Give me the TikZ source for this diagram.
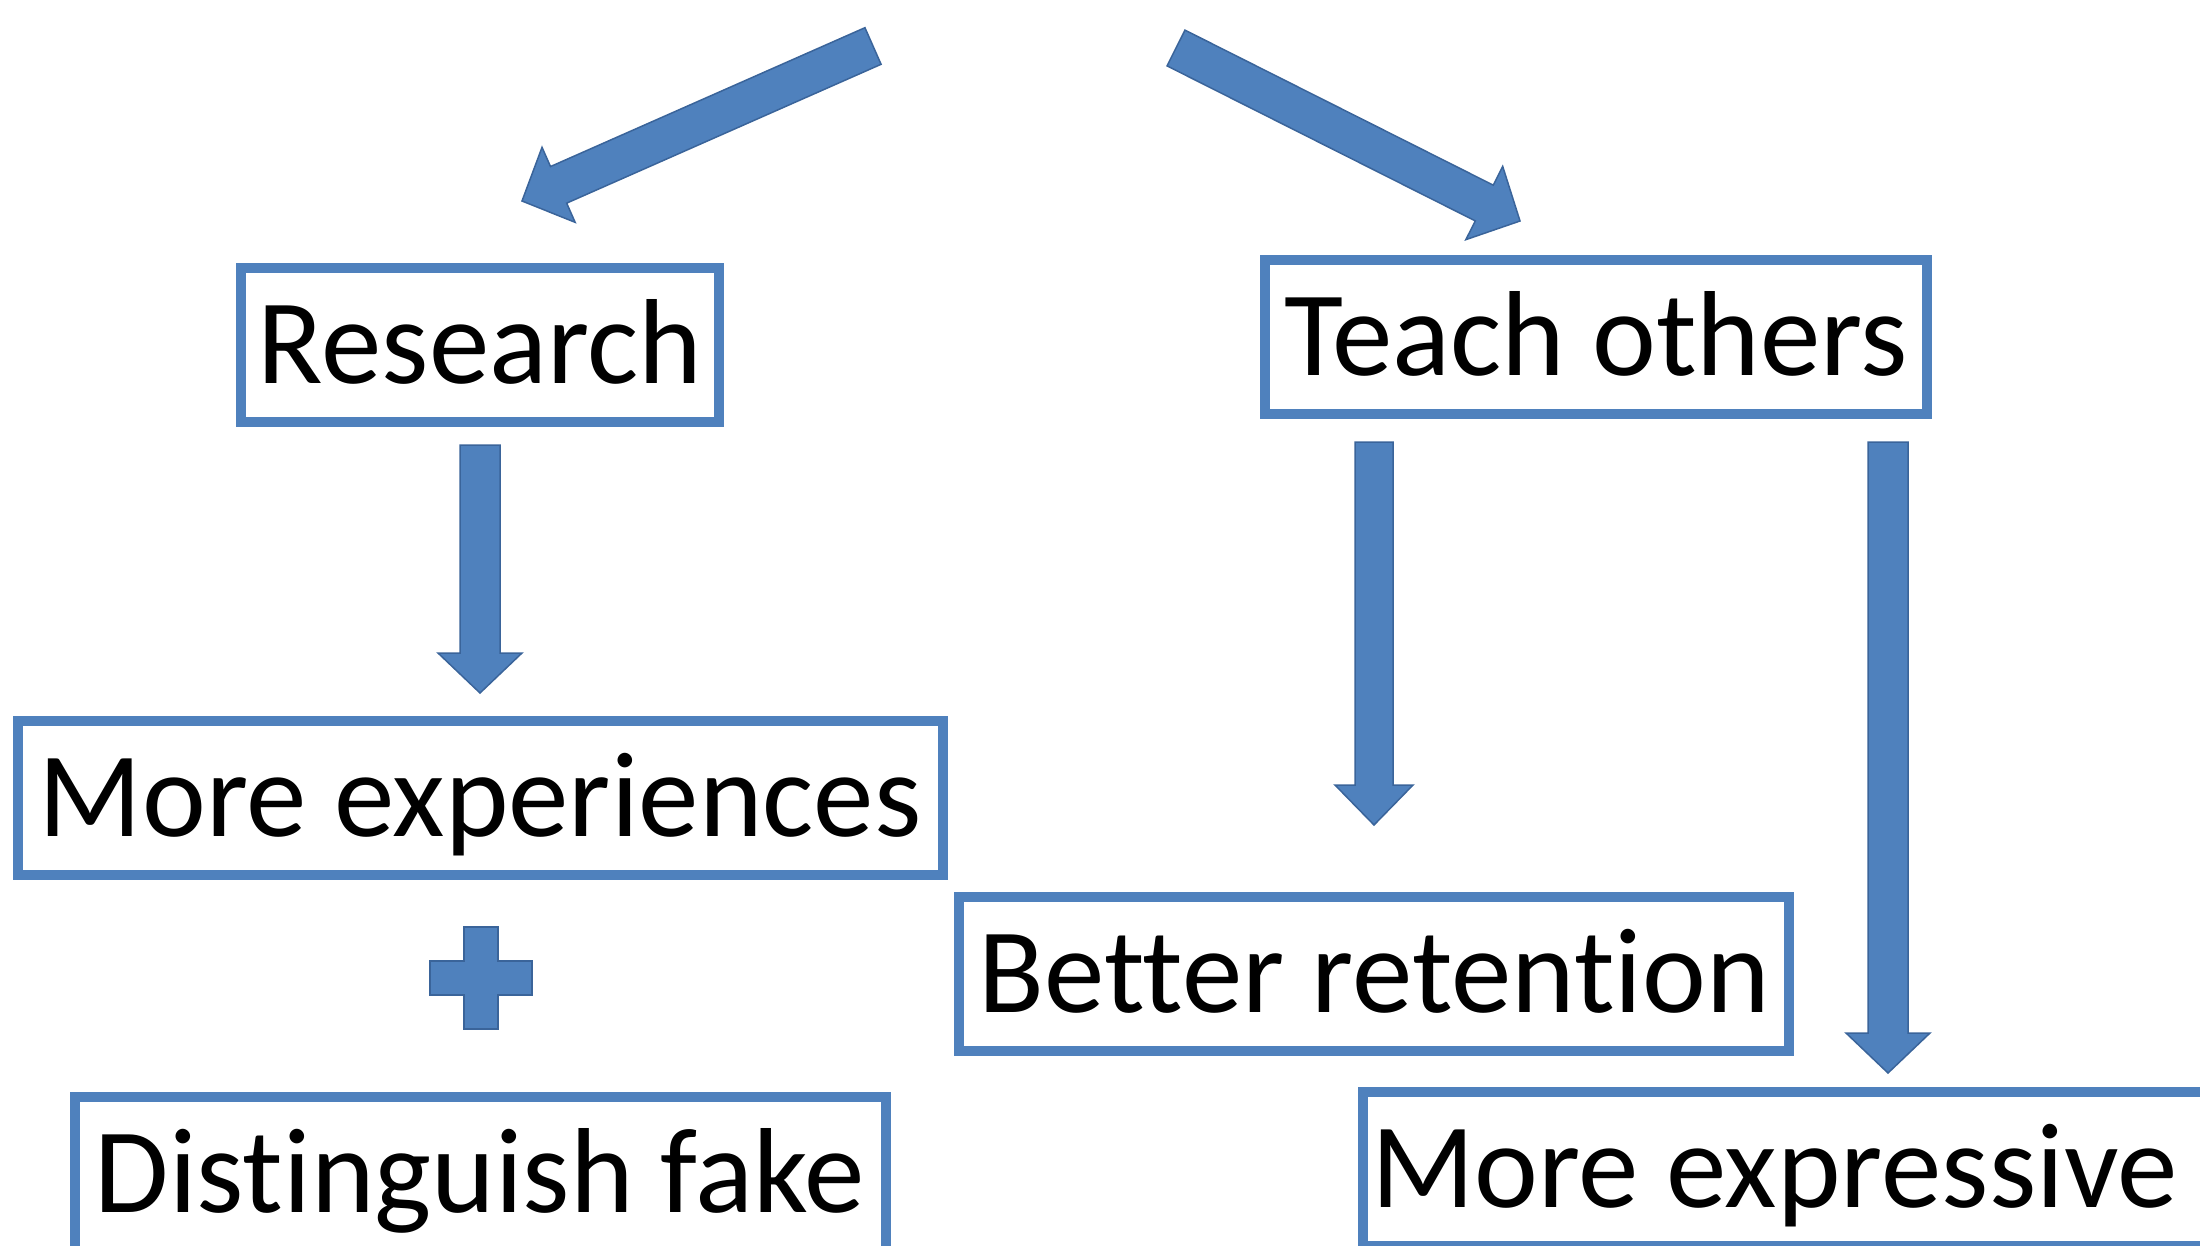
\documentclass[tikz,border=0pt]{standalone}
\usepackage{fontspec}
\setmainfont[Ligatures=NoCommon]{Carlito}
\usetikzlibrary{calc}

\definecolor{boxblue}{HTML}{4F81BD}
\definecolor{arrowblue}{HTML}{4F81BD}
\definecolor{arrowedge}{HTML}{3A649A}

\tikzset{
  box/.style={draw=boxblue, line width=10pt, minimum height=154pt, inner sep=0pt,
    font=\fontsize{121pt}{140pt}\selectfont, text height=77pt, text depth=0pt},
  blockarrow/.style={fill=arrowblue, draw=arrowedge, line width=1.5pt, line join=miter},
}

% block arrow from #1 to #2, half shaft #3, half head #4
\newcommand{\bluearrow}[4]{%
  \coordinate (hb) at ($(#2)!40pt!(#1)$);
  \filldraw[blockarrow] ($(#1)!#3!90:(#2)$) -- ($(hb)!#3!90:(#2)$) -- ($(hb)!#4!90:(#2)$)
    -- (#2) -- ($(hb)!#4!-90:(#2)$) -- ($(hb)!#3!-90:(#2)$) -- ($(#1)!#3!-90:(#2)$) -- cycle;
}

\begin{document}
\begin{tikzpicture}[x=1pt,y=-1pt]
		\useasboundingbox (0,0) rectangle (2200,1245);
		\clip (0,0) rectangle (2200,1245);
		% boxes
		\node[box, minimum width=478pt] (research) at (480,345) {Research};
		\node[box, minimum width=662pt] (teach) at (1596,337) {Teach others};
		\node[box, minimum width=925pt] (moreexp) at (480,798) {More experiences};
		\node[box, minimum width=830pt] (retention) at (1374,974) {Better retention};
		\node[box, minimum width=811pt] (distinguish) at (480,1174) {Distinguish fake};
		\node[box, anchor=west, inner xsep=8pt] (expressive) at (1358,1169) {\makebox[840pt][l]{More expressive}};
		%
		% arrow ends
		\coordinate (top1) at (873,46);
		\coordinate (top2) at (1176,48);
		\coordinate (res0) at ($(research.north)+(42,-62)$);
		\coordinate (tea0) at ($(teach.north)+(-76,-34)$);
		\coordinate (r1) at ($(research.south)+(0,18)$);
		\coordinate (r2) at ($(moreexp.north)+(0,-23)$);
		\coordinate (t1) at ($(retention.north |- teach.south)+(0,23)$);
		\coordinate (t2) at ($(retention.north)+(0,-67)$);
		\coordinate (t3) at ($(teach.south east)+(-44,23)$);
		\coordinate (t4) at ($(t3 |- expressive.north)+(0,-14)$);
		%
		% diagonal arrows
		\bluearrow{top1}{res0}{20pt}{41pt}
		\bluearrow{top2}{tea0}{20pt}{41pt}
		% vertical arrows
		\bluearrow{r1}{r2}{20pt}{42pt}
		\bluearrow{t1}{t2}{19pt}{39pt}
		\bluearrow{t3}{t4}{20pt}{42pt}
		%
		% plus sign
		\coordinate (plus) at (481,978);
		\filldraw[blockarrow] (plus) ++(-17,-51) -- ++(34,0) -- ++(0,34) -- ++(34,0) -- ++(0,34)
		  -- ++(-34,0) -- ++(0,34) -- ++(-34,0) -- ++(0,-34) -- ++(-34,0) -- ++(0,-34) -- ++(34,0) -- cycle;
\end{tikzpicture}
\end{document}
